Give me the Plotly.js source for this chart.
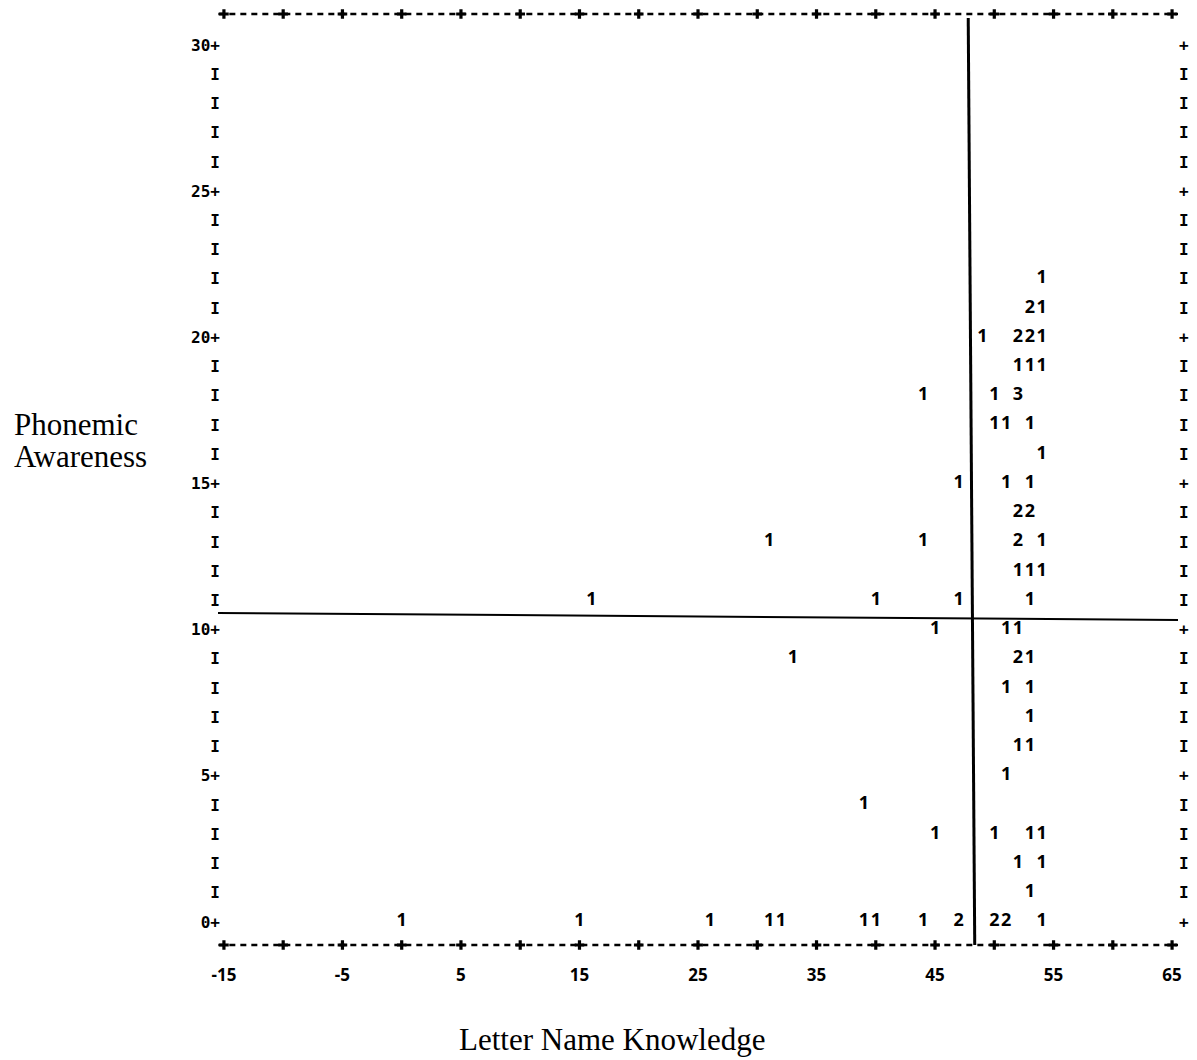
<!DOCTYPE html>
<html><head><meta charset="utf-8">
<script src="https://cdn.plot.ly/plotly-3.0.1.min.js"></script>
<style>html,body{margin:0;padding:0;background:#fff}#chart{width:1197px;height:1060px}</style>
</head><body><div id="chart"></div>
<script>
// Letter Name Knowledge (x), Phonemic Awareness (y), number of cases at that cell
const pointX = [54, 53,54, 49,52,53,54, 52,53,54, 44,50,52, 50,51,53, 54,
  47,51,53, 52,53, 31,44,52,54, 52,53,54, 16,40,47,53, 45,51,52, 33,52,53,
  51,53, 53, 52,53, 51, 39, 45,50,53,54, 52,54, 53,
  0,15,26,31,32,39,40,44,47,50,51,54];
const pointY = [22, 21,21, 20,20,20,20, 19,19,19, 18,18,18, 17,17,17, 16,
  15,15,15, 14,14, 13,13,13,13, 12,12,12, 11,11,11,11, 10,10,10, 9,9,9,
  8,8, 7, 6,6, 5, 4, 3,3,3,3, 2,2, 1,
  0,0,0,0,0,0,0,0,0,0,0,0];
const pointCount = [1, 2,1, 1,2,2,1, 1,1,1, 1,1,3, 1,1,1, 1,
  1,1,1, 2,2, 1,1,2,1, 1,1,1, 1,1,1,1, 1,1,1, 1,2,1,
  1,1, 1, 1,1, 1, 1, 1,1,1,1, 1,1, 1,
  1,1,1,1,1,1,1,1,2,2,2,1];

const xTickVals = [-15, -5, 5, 15, 25, 35, 45, 55, 65];
const xTickText = ["-15", "-5", "5", "15", "25", "35", "45", "55", "65"];
const yTickVals = [0,1,2,3,4,5,6,7,8,9,10,11,12,13,14,15,16,17,18,19,20,21,22,23,24,25,26,27,28,29,30];
const yTickTextLeft = ["0+","I","I","I","I","5+","I","I","I","I","10+","I","I","I","I","15+",
  "I","I","I","I","20+","I","I","I","I","25+","I","I","I","I","30+"];
const yTickTextRight = ["+","I","I","I","I","+","I","I","I","I","+","I","I","I","I","+",
  "I","I","I","I","+","I","I","I","I","+","I","I","I","I","+"];
const borderTickX = [-16.4, -15, -10, -5, 0, 5, 10, 15, 20, 25, 30, 35, 40, 45, 50, 55, 60, 65, 66.1];

// hand-drawn reference lines on the printout
const refVerticalX = [47.8, 48.35], refVerticalY = [30.92, -0.79];
const refHorizontalX = [-15.6, 65.6], refHorizontalY = [10.57, 10.33];

const X_RANGE = [-15.5, 65.5];
const Y_RANGE = [-0.79, 31.06];
const Y_TOP = Y_RANGE[1], Y_BOT = Y_RANGE[0];

const traces = [
  {
    type: 'scatter', mode: 'text', x: pointX, y: pointY,
    text: pointCount.map(String),
    textposition: 'middle center',
    textfont: {family: 'Noto Sans', size: 18, color: '#000', weight: 'bold'},
    cliponaxis: false, hoverinfo: 'skip', showlegend: false
  },
  {
    type: 'scatter', mode: 'markers', x: borderTickX, y: borderTickX.map(() => Y_TOP),
    marker: {symbol: 'cross', size: 8, color: '#000'},
    cliponaxis: false, hoverinfo: 'skip', showlegend: false
  },
  {
    type: 'scatter', mode: 'markers', x: borderTickX, y: borderTickX.map(() => Y_BOT),
    marker: {symbol: 'cross', size: 8, color: '#000'},
    cliponaxis: false, hoverinfo: 'skip', showlegend: false
  },
  {
    type: 'scatter', mode: 'markers', x: [null], y: [null], yaxis: 'y2',
    hoverinfo: 'skip', showlegend: false
  }
];

const layout = {
  width: 1197, height: 1060,
  margin: {l: 218, r: 19, t: 14, b: 115},
  paper_bgcolor: '#fff', plot_bgcolor: '#fff',
  showlegend: false,
  xaxis: {
    range: X_RANGE, tickmode: 'array', tickvals: xTickVals, ticktext: xTickText,
    tickfont: {family: 'Noto Sans', size: 17, color: '#000', weight: 'bold'},
    showgrid: false, zeroline: false, showline: false, ticks: '',
    ticklabelstandoff: 18
  },
  yaxis: {
    range: Y_RANGE, tickmode: 'array', tickvals: yTickVals, ticktext: yTickTextLeft,
    tickfont: {family: 'DejaVu Sans Mono', size: 16, color: '#000', weight: 'bold'},
    showgrid: false, zeroline: false, showline: false, ticks: '',
    ticklabelstandoff: -3
  },
  yaxis2: {
    range: Y_RANGE, overlaying: 'y', side: 'right',
    tickmode: 'array', tickvals: yTickVals, ticktext: yTickTextRight,
    tickfont: {family: 'DejaVu Sans Mono', size: 16, color: '#000', weight: 'bold'},
    showgrid: false, zeroline: false, showline: false, ticks: '',
    ticklabelstandoff: 0
  },
  shapes: [
    {type: 'line', xref: 'x', yref: 'paper', x0: -16.4, x1: 66.1, y0: 1, y1: 1,
     line: {color: '#000', width: 2.5, dash: '6px,5px'}},
    {type: 'line', xref: 'x', yref: 'paper', x0: -16.4, x1: 66.1, y0: 0, y1: 0,
     line: {color: '#000', width: 2.5, dash: '6px,5px'}},
    {type: 'line', xref: 'x', yref: 'y', x0: refVerticalX[0], x1: refVerticalX[1],
     y0: refVerticalY[0], y1: refVerticalY[1], line: {color: '#000', width: 3}},
    {type: 'line', xref: 'x', yref: 'y', x0: refHorizontalX[0], x1: refHorizontalX[1],
     y0: refHorizontalY[0], y1: refHorizontalY[1], line: {color: '#000', width: 2}}
  ],
  annotations: [
    {text: 'Phonemic', xref: 'paper', yref: 'paper',
     x: -0.2146, y: (945 - 424) / 931, xanchor: 'left', yanchor: 'middle', align: 'left',
     showarrow: false, font: {family: 'Liberation Serif', size: 31, color: '#000'}},
    {text: 'Awareness', xref: 'paper', yref: 'paper',
     x: -0.2146, y: (945 - 456) / 931, xanchor: 'left', yanchor: 'middle', align: 'left',
     showarrow: false, font: {family: 'Liberation Serif', size: 31, color: '#000'}},
    {text: 'Letter Name Knowledge', xref: 'paper', yref: 'paper',
     x: 0.41, y: -0.102, xanchor: 'center', yanchor: 'middle',
     showarrow: false, font: {family: 'Liberation Serif', size: 31, color: '#000'}}
  ]
};

Plotly.newPlot('chart', traces, layout, {displayModeBar: false, staticPlot: true});
</script></body></html>
